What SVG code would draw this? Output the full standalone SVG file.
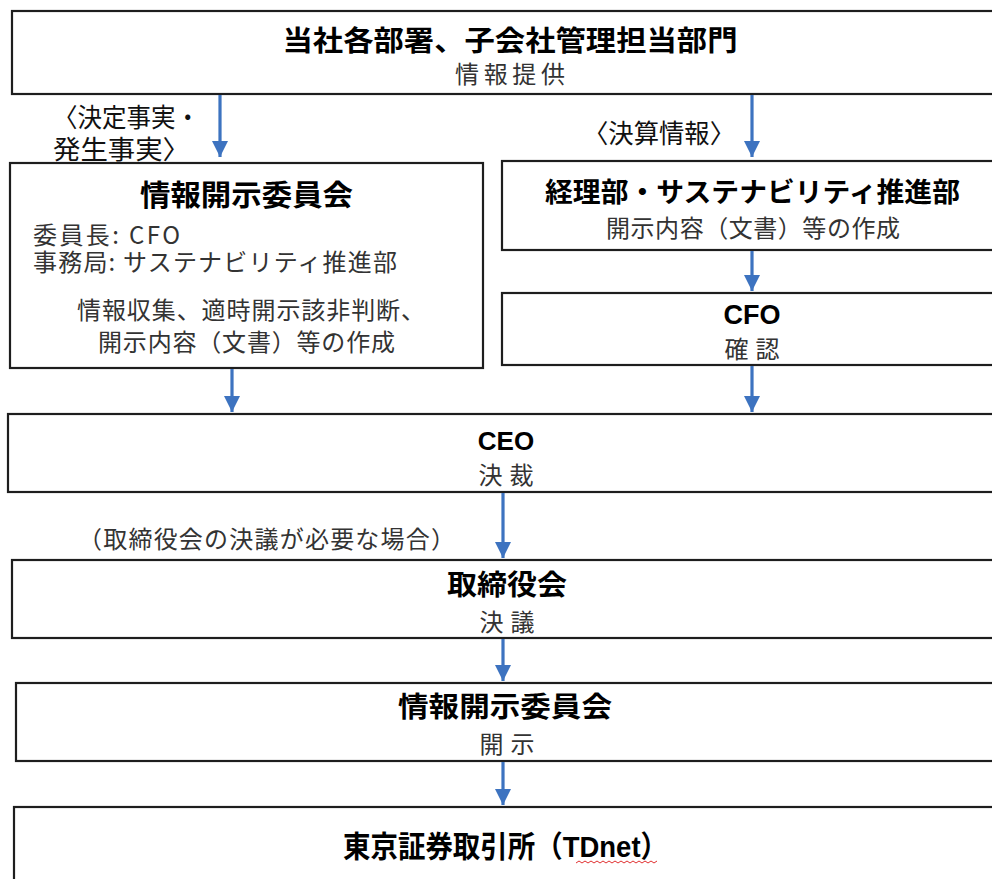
<svg xmlns="http://www.w3.org/2000/svg" width="992" height="879" viewBox="0 0 992 879">
<style>
.box{fill:#fff;stroke:#1e1e1e;stroke-width:2.2}
.conn{stroke:#3d73c0;stroke-width:3.2;fill:none}
.t{font-family:"Liberation Sans","Noto Sans CJK JP",sans-serif;fill:#000;font-weight:bold}
.s{font-family:"Noto Sans CJK JP",sans-serif;fill:#333;font-size:24px}
.l{font-family:"Noto Sans CJK JP",sans-serif;fill:#111;font-size:26px}
.c{text-anchor:middle}
</style>
<defs>
<marker id="ah" markerUnits="userSpaceOnUse" markerWidth="18" markerHeight="16" refX="16" refY="8" orient="auto">
<path d="M0,0 L16,8 L0,16 z" fill="#3d73c0"/>
</marker>
</defs>
<rect width="992" height="879" fill="#fff"/>
<g id="n-top">
<rect class="box" x="12" y="11" width="990" height="83"/>
<text class="t c" x="510" y="51" font-size="28" textLength="455" lengthAdjust="spacingAndGlyphs">当社各部署、子会社管理担当部門</text>
<text class="s c" x="510" y="83" textLength="110">情報提供</text>
</g>
<g id="n-committee">
<rect class="box" x="10" y="163" width="473" height="205"/>
<text class="t" x="140" y="206" font-size="29" textLength="213" lengthAdjust="spacingAndGlyphs">情報開示委員会</text>
<text class="s" x="33" y="244" textLength="147">委員長: CFO</text>
<text class="s" x="33" y="271" textLength="364">事務局: サステナビリティ推進部</text>
<text class="s" x="77" y="319" textLength="348">情報収集、適時開示該非判断、</text>
<text class="s" x="98" y="351" textLength="297">開示内容（文書）等の作成</text>
</g>
<g id="n-accounting">
<rect class="box" x="502" y="161" width="500" height="89"/>
<text class="t" x="545" y="202" font-size="27" textLength="415" lengthAdjust="spacingAndGlyphs">経理部・サステナビリティ推進部</text>
<text class="s" x="606" y="237" textLength="294">開示内容（文書）等の作成</text>
</g>
<g id="n-cfo">
<rect class="box" x="502" y="293" width="500" height="72"/>
<text class="t c" x="752" y="324" font-size="27">CFO</text>
<text class="s c" x="752" y="358" textLength="55">確認</text>
</g>
<g id="n-ceo">
<rect class="box" x="8" y="414" width="1000" height="78"/>
<text class="t c" x="506" y="450" font-size="26">CEO</text>
<text class="s c" x="506" y="484" textLength="55">決裁</text>
</g>
<g id="n-board">
<rect class="box" x="12" y="560" width="1000" height="78"/>
<text class="t" x="447" y="595" font-size="28" textLength="120" lengthAdjust="spacingAndGlyphs">取締役会</text>
<text class="s c" x="507" y="631" textLength="55">決議</text>
</g>
<g id="n-disclosure">
<rect class="box" x="16" y="683" width="1000" height="78"/>
<text class="t" x="398" y="717" font-size="28" textLength="214" lengthAdjust="spacingAndGlyphs">情報開示委員会</text>
<text class="s c" x="507" y="753" textLength="55">開示</text>
</g>
<g id="n-tse">
<rect class="box" x="14" y="807" width="1000" height="100"/>
<text class="t" x="343" y="857" font-size="30" textLength="325" lengthAdjust="spacingAndGlyphs">東京証券取引所（TDnet）</text>
<path d="M576,863 l3,-2 l3,2 l3,-2 l3,2 l3,-2 l3,2 l3,-2 l3,2 l3,-2 l3,2 l3,-2 l3,2 l3,-2 l3,2 l3,-2 l3,2 l3,-2 l3,2 l3,-2 l3,2 l3,-2 l3,2 l3,-2 l3,2 l3,-2 l3,2 l3,-2" fill="none" stroke="#e03030" stroke-width="1"/>
</g>
<g id="connectors">
<line class="conn" x1="220" y1="95" x2="220" y2="157" marker-end="url(#ah)"/>
<line class="conn" x1="752" y1="95" x2="752" y2="157" marker-end="url(#ah)"/>
<line class="conn" x1="752" y1="251" x2="752" y2="291" marker-end="url(#ah)"/>
<line class="conn" x1="232" y1="369" x2="232" y2="412" marker-end="url(#ah)"/>
<line class="conn" x1="752" y1="366" x2="752" y2="412" marker-end="url(#ah)"/>
<line class="conn" x1="503" y1="493" x2="503" y2="558" marker-end="url(#ah)"/>
<line class="conn" x1="503" y1="639" x2="503" y2="681" marker-end="url(#ah)"/>
<line class="conn" x1="503" y1="762" x2="503" y2="805" marker-end="url(#ah)"/>
</g>
<g id="labels">
<text class="l" x="53" y="127" textLength="147" lengthAdjust="spacingAndGlyphs">〈決定事実・</text>
<text class="l" x="53" y="159" textLength="137" lengthAdjust="spacingAndGlyphs">発生事実〉</text>
<text class="l" x="583" y="143" textLength="152" lengthAdjust="spacingAndGlyphs">〈決算情報〉</text>
<text class="s" x="78" y="548" textLength="377" fill="#222">（取締役会の決議が必要な場合）</text>
</g>
</svg>
